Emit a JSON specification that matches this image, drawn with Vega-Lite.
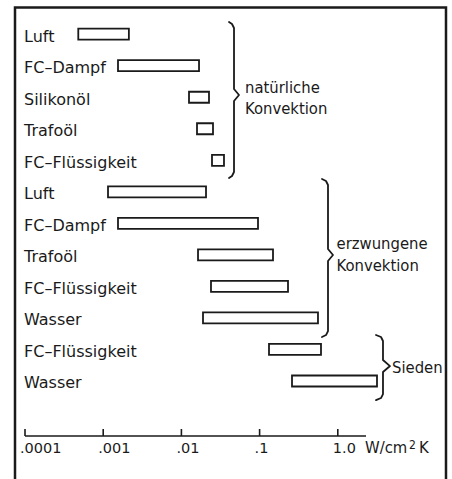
{
  "$schema": "https://vega.github.io/schema/vega-lite/v6.json",
  "width": 452,
  "height": 479,
  "autosize": "none",
  "padding": 0,
  "background": "white",
  "config": {"view": {"stroke": null}, "font": "DejaVu Sans Condensed, DejaVu Sans"},
  "datasets": {
    "bars": [
      {"id": "n1", "label": "Luft", "group": "natürliche Konvektion", "lo": 0.00048, "hi": 0.00213},
      {"id": "n2", "label": "FC–Dampf", "group": "natürliche Konvektion", "lo": 0.001546, "hi": 0.0168},
      {"id": "n3", "label": "Silikonöl", "group": "natürliche Konvektion", "lo": 0.01251, "hi": 0.02254},
      {"id": "n4", "label": "Trafoöl", "group": "natürliche Konvektion", "lo": 0.01583, "hi": 0.02536},
      {"id": "n5", "label": "FC–Flüssigkeit", "group": "natürliche Konvektion", "lo": 0.02462, "hi": 0.03505},
      {"id": "e1", "label": "Luft", "group": "erzwungene Konvektion", "lo": 0.001152, "hi": 0.02064},
      {"id": "e2", "label": "FC–Dampf", "group": "erzwungene Konvektion", "lo": 0.001546, "hi": 0.0954},
      {"id": "e3", "label": "Trafoöl", "group": "erzwungene Konvektion", "lo": 0.01631, "hi": 0.1484},
      {"id": "e4", "label": "FC–Flüssigkeit", "group": "erzwungene Konvektion", "lo": 0.0239, "hi": 0.2308},
      {"id": "e5", "label": "Wasser", "group": "erzwungene Konvektion", "lo": 0.01889, "hi": 0.558},
      {"id": "s1", "label": "FC–Flüssigkeit", "group": "Sieden", "lo": 0.1319, "hi": 0.6098},
      {"id": "s2", "label": "Wasser", "group": "Sieden", "lo": 0.2597, "hi": 3.172}
    ],
    "braces": [
      {"b": 1, "i": 0, "x": 0.04062, "k": -0.386},
      {"b": 1, "i": 1, "x": 0.04436, "k": -0.322},
      {"b": 1, "i": 2, "x": 0.04707, "k": -0.196},
      {"b": 1, "i": 3, "x": 0.04707, "k": 1.739},
      {"b": 1, "i": 4, "x": 0.05452, "k": 1.929},
      {"b": 1, "i": 5, "x": 0.04707, "k": 2.12},
      {"b": 1, "i": 6, "x": 0.04707, "k": 4.371},
      {"b": 1, "i": 7, "x": 0.04436, "k": 4.498},
      {"b": 1, "i": 8, "x": 0.04062, "k": 4.562},
      {"b": 2, "i": 0, "x": 0.628, "k": 4.593},
      {"b": 2, "i": 1, "x": 0.7066, "k": 4.657},
      {"b": 2, "i": 2, "x": 0.7494, "k": 4.784},
      {"b": 2, "i": 3, "x": 0.7494, "k": 6.814},
      {"b": 2, "i": 4, "x": 0.868, "k": 7.004},
      {"b": 2, "i": 5, "x": 0.7494, "k": 7.194},
      {"b": 2, "i": 6, "x": 0.7494, "k": 9.416},
      {"b": 2, "i": 7, "x": 0.7066, "k": 9.542},
      {"b": 2, "i": 8, "x": 0.628, "k": 9.605},
      {"b": 3, "i": 0, "x": 3.08, "k": 9.541},
      {"b": 3, "i": 1, "x": 3.568, "k": 9.605},
      {"b": 3, "i": 2, "x": 3.784, "k": 9.732},
      {"b": 3, "i": 3, "x": 3.784, "k": 10.335},
      {"b": 3, "i": 4, "x": 4.651, "k": 10.526},
      {"b": 3, "i": 5, "x": 3.784, "k": 10.716},
      {"b": 3, "i": 6, "x": 3.784, "k": 11.414},
      {"b": 3, "i": 7, "x": 3.568, "k": 11.54},
      {"b": 3, "i": 8, "x": 3.08, "k": 11.604}
    ],
    "groupText": [
      {"t": "natürliche", "x": 0.06506, "k": 1.866},
      {"t": "Konvektion", "x": 0.06506, "k": 2.532},
      {"t": "erzwungene", "x": 0.9625, "k": 6.829},
      {"t": "Konvektion", "x": 0.9625, "k": 7.527},
      {"t": "Sieden", "x": 4.932, "k": 10.746}
    ],
    "frame": [
      {"i": 0, "x": 7.449e-05, "k": 14.6},
      {"i": 1, "x": 7.449e-05, "k": -0.846},
      {"i": 2, "x": 24.19, "k": -0.846},
      {"i": 3, "x": 24.19, "k": 14.6}
    ],
    "ticks": [
      {"v": 0.0001, "t": ".0001"},
      {"v": 0.001, "t": ".001"},
      {"v": 0.01, "t": ".01"},
      {"v": 0.1, "t": ".1"},
      {"v": 1, "t": "1.0"}
    ],
    "unit": [
      {"t": "W/cm", "x": 2.227},
      {"t": "K", "x": 10.93}
    ]
  },
  "layer": [
    {
      "data": {"name": "bars"},
      "encoding": {
        "y": {
          "field": "id",
          "type": "nominal",
          "axis": null,
          "scale": {
            "type": "band",
            "domain": ["n1", "n2", "n3", "n4", "n5", "e1", "e2", "e3", "e4", "e5", "s1", "s2"],
            "range": [18.4, 396.76],
            "paddingInner": 0,
            "paddingOuter": 0
          }
        }
      },
      "layer": [
        {
          "mark": {"type": "bar", "height": 11, "fill": "white", "stroke": "#1a1a1a", "strokeWidth": 1.8},
          "encoding": {
            "x": {"field": "lo", "type": "quantitative", "axis": null,
                  "scale": {"type": "log", "domain": [4.789e-05, 28.87], "nice": false}},
            "x2": {"field": "hi"}
          }
        },
        {
          "mark": {"type": "text", "align": "left", "baseline": "alphabetic", "dy": 7.5, "dx": -1, "fontSize": 16, "font": "DejaVu Sans", "color": "#1a1a1a"},
          "encoding": {
            "x": {"datum": 0.0001, "type": "quantitative", "axis": null,
                  "scale": {"type": "log", "domain": [4.789e-05, 28.87], "nice": false}},
            "text": {"field": "label"}
          }
        }
      ]
    },
    {
      "encoding": {
        "y": {"type": "quantitative", "axis": null}
      },
      "layer": [
        {
          "data": {"name": "frame"},
          "mark": {"type": "line", "stroke": "#1a1a1a", "strokeWidth": 2.5, "strokeCap": "square"},
          "encoding": {
            "x": {"field": "x", "type": "quantitative", "axis": null,
                  "scale": {"type": "log", "domain": [4.789e-05, 28.87], "nice": false}},
            "y": {"field": "k", "type": "quantitative", "axis": null,
                  "scale": {"domain": [-1.0837, 14.108], "reverse": true, "nice": false, "zero": false}},
            "order": {"field": "i"}
          }
        },
        {
          "data": {"name": "braces"},
          "mark": {"type": "line", "stroke": "#1a1a1a", "strokeWidth": 1.8, "strokeJoin": "round", "strokeCap": "round"},
          "encoding": {
            "x": {"field": "x", "type": "quantitative", "axis": null,
                  "scale": {"type": "log", "domain": [4.789e-05, 28.87], "nice": false}},
            "y": {"field": "k", "type": "quantitative", "axis": null},
            "detail": {"field": "b"},
            "order": {"field": "i"}
          }
        },
        {
          "data": {"name": "groupText"},
          "mark": {"type": "text", "align": "left", "baseline": "alphabetic", "fontSize": 16.5, "color": "#1a1a1a"},
          "encoding": {
            "x": {"field": "x", "type": "quantitative", "axis": null,
                  "scale": {"type": "log", "domain": [4.789e-05, 28.87], "nice": false}},
            "y": {"field": "k", "type": "quantitative", "axis": null},
            "text": {"field": "t"}
          }
        },
        {
          "data": {"values": [{}]},
          "mark": {"type": "rule", "stroke": "#1a1a1a", "strokeWidth": 1.6},
          "encoding": {
            "x": {"datum": 0.0001, "type": "quantitative", "axis": null,
                  "scale": {"type": "log", "domain": [4.789e-05, 28.87], "nice": false}},
            "x2": {"datum": 2.294},
            "y": {"datum": 12.744, "type": "quantitative", "axis": null}
          }
        },
        {
          "data": {"name": "ticks"},
          "mark": {"type": "rule", "stroke": "#1a1a1a", "strokeWidth": 1.6},
          "encoding": {
            "x": {"field": "v", "type": "quantitative", "axis": null,
                  "scale": {"type": "log", "domain": [4.789e-05, 28.87], "nice": false}},
            "y": {"datum": 12.522, "type": "quantitative", "axis": null},
            "y2": {"datum": 12.744}
          }
        },
        {
          "data": {"name": "ticks"},
          "mark": {"type": "text", "align": "left", "baseline": "alphabetic", "dx": -5, "fontSize": 14.5, "font": "DejaVu Sans", "color": "#1a1a1a"},
          "encoding": {
            "x": {"field": "v", "type": "quantitative", "axis": null,
                  "scale": {"type": "log", "domain": [4.789e-05, 28.87], "nice": false}},
            "y": {"datum": 13.299, "type": "quantitative", "axis": null},
            "text": {"field": "t"}
          }
        },
        {
          "data": {"name": "unit"},
          "mark": {"type": "text", "align": "left", "baseline": "alphabetic", "fontSize": 16.5, "color": "#1a1a1a"},
          "encoding": {
            "x": {"field": "x", "type": "quantitative", "axis": null,
                  "scale": {"type": "log", "domain": [4.789e-05, 28.87], "nice": false}},
            "y": {"datum": 13.299, "type": "quantitative", "axis": null},
            "text": {"field": "t"}
          }
        },
        {
          "data": {"values": [{}]},
          "mark": {"type": "text", "align": "left", "baseline": "alphabetic", "fontSize": 12, "color": "#1a1a1a", "text": "2"},
          "encoding": {
            "x": {"datum": 8.14, "type": "quantitative", "axis": null,
                  "scale": {"type": "log", "domain": [4.789e-05, 28.87], "nice": false}},
            "y": {"datum": 13.157, "type": "quantitative", "axis": null}
          }
        }
      ]
    }
  ],
  "resolve": {"scale": {"y": "independent"}}
}
